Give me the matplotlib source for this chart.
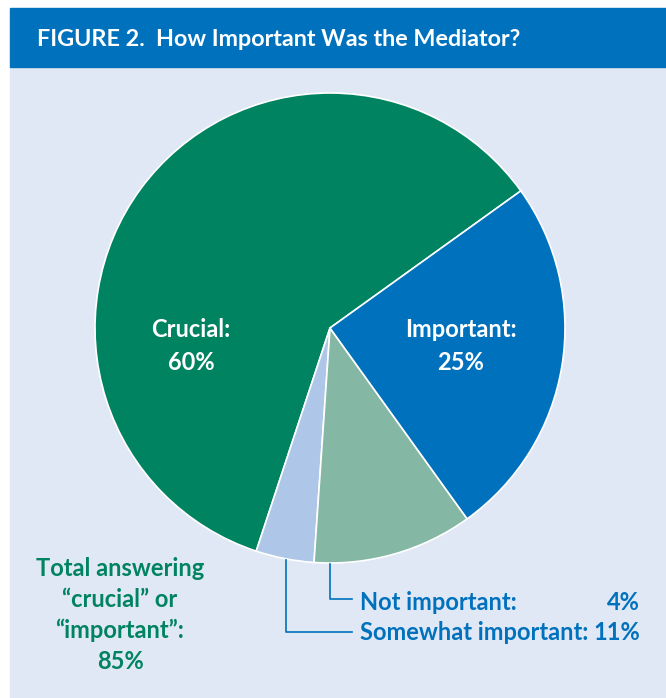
import matplotlib.pyplot as plt
from matplotlib.patches import Rectangle

plt.rcParams['font.family'] = ['Lato', 'DejaVu Sans']

# data
labels = ['Crucial', 'Not important', 'Somewhat important', 'Important']
values = [60, 4, 11, 25]
colors = ['#008361', '#aec6e8', '#85b8a4', '#0071bc']
total_label = 85

W, H = 666, 698
fig = plt.figure(figsize=(W / 100, H / 100), dpi=100)
fig.patch.set_facecolor('white')

def fx(x):
    return x / W

def fy(y):
    return 1 - y / H

# background + header band
fig.patches.append(Rectangle((fx(10), 0), 1, fy(67), transform=fig.transFigure,
                             color='#e1e8f5', zorder=-2))
fig.patches.append(Rectangle((fx(10), fy(67)), 1, (67 - 8) / H, transform=fig.transFigure,
                             color='#0071bc', zorder=-2))
fig.text(fx(37), fy(39), 'FIGURE 2.  How Important Was the Mediator?', color='white',
         fontsize=16.8, fontweight='bold', va='center', ha='left')

# pie
cx, cy, r = 330, 328, 235
ax = fig.add_axes([fx(cx - r), fy(cy + r), 2 * r / W, 2 * r / H])
ax.set_zorder(1)
ax.pie(values, colors=colors, startangle=35.7, counterclock=True,
       wedgeprops=dict(edgecolor='white', linewidth=1.2))
ax.set_xlim(-1, 1)
ax.set_ylim(-1, 1)
ax.set_aspect('auto')
ax.axis('off')

fs = 17
for x, i in [(191, 0), (461, 3)]:
    fig.text(fx(x), fy(330), f'{labels[i]}:', color='white', fontsize=fs,
             fontweight='bold', ha='center', va='center', zorder=5)
    fig.text(fx(x), fy(363), f'{values[i]}%', color='white', fontsize=fs,
             fontweight='bold', ha='center', va='center', zorder=5)

# leader lines
blue = '#0071bc'
fig.add_artist(plt.Line2D([fx(330), fx(330), fx(352)], [fy(564), fy(599), fy(599)],
                          color=blue, lw=1.2))
fig.add_artist(plt.Line2D([fx(286), fx(286), fx(352)], [fy(560), fy(632), fy(632)],
                          color=blue, lw=1.2))
fig.text(fx(360), fy(602), f'{labels[1]}:', color=blue, fontsize=fs,
         fontweight='bold', ha='left', va='center')
fig.text(fx(640), fy(602), f'{values[1]}%', color=blue, fontsize=fs,
         fontweight='bold', ha='right', va='center')
fig.text(fx(360), fy(633), f'{labels[2]}:', color=blue, fontsize=fs,
         fontweight='bold', ha='left', va='center')
fig.text(fx(640), fy(633), f'{values[2]}%', color=blue, fontsize=fs,
         fontweight='bold', ha='right', va='center')

green = '#008361'
fig.text(fx(120), fy(615), 'Total answering\n\u201ccrucial\u201d or\n\u201cimportant\u201d:\n'
         f'{total_label}%', color=green, fontsize=fs, fontweight='bold',
         ha='center', va='center', linespacing=1.42)

fig.savefig('out.png', dpi=100, facecolor='white')
